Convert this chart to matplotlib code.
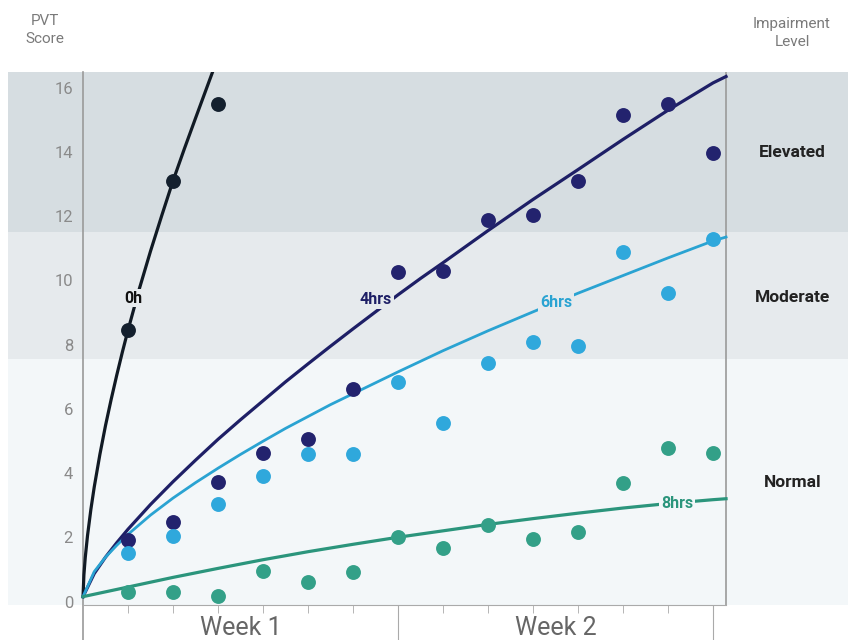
import matplotlib.pyplot as plt
import matplotlib.transforms as mtransforms
import numpy as np

plt.rcParams['font.family'] = ['Roboto', 'DejaVu Sans']

# scatter data: PVT score per day for each sleep condition
days = np.arange(1, 15)
pts_0h = [8.5, 13.15, 15.55]
pts_4h = [1.96, 2.52, 3.77, 4.67, 5.1, 6.67, 10.3, 10.34, 11.93, 12.09, 13.15, 15.2, 15.55, 14.02]
pts_6h = [1.56, 2.09, 3.1, 3.96, 4.65, 4.65, 6.9, 5.6, 7.47, 8.13, 8.0, 10.94, 9.65, 11.34]
pts_8h = [0.34, 0.34, 0.22, 1.0, 0.65, 0.97, 2.06, 1.71, 2.43, 1.99, 2.21, 3.74, 4.83, 4.67]

# trend curves
curve_0h_t = [0, 0.02, 0.05, 0.1, 0.175, 0.25, 0.375, 0.5, 0.625, 0.75, 0.875, 1,
              1.25, 1.5, 1.75, 2, 2.25, 2.5, 2.75, 3]
curve_0h_v = [0.2, 0.88, 1.42, 2.1, 2.92, 3.62, 4.63, 5.53, 6.34, 7.1, 7.82, 8.5,
              9.78, 10.96, 12.07, 13.15, 14.14, 15.1, 16.05, 17.0]
curve_4h_t = [0, 0.25, 0.5, 0.75, 1, 1.5, 2, 2.5, 3, 3.5, 4, 4.5, 5, 5.5, 6, 6.5, 7, 7.5,
              8, 9, 10, 11, 12, 13, 14, 14.29]
curve_4h_v = [0.2, 0.92, 1.43, 1.88, 2.3, 3.07, 3.78, 4.45, 5.1, 5.71, 6.3, 6.89, 7.45, 8.0,
              8.54, 9.07, 9.6, 10.11, 10.6, 11.6, 12.57, 13.5, 14.44, 15.35, 16.2, 16.4]
curve_6h_t = [0, 0.25, 0.5, 0.75, 1, 1.5, 2, 2.5, 3, 3.5, 4, 4.5, 5, 5.5, 6, 7, 8, 9,
              10, 11, 12, 13, 14, 14.29]
curve_6h_v = [0.2, 0.98, 1.43, 1.8, 2.14, 2.74, 3.27, 3.75, 4.2, 4.63, 5.04, 5.44, 5.81, 6.18,
              6.52, 7.2, 7.86, 8.48, 9.07, 9.65, 10.2, 10.75, 11.28, 11.4]
curve_8h_t = [0, 1, 2, 3, 4, 5, 6, 7, 8, 9, 10, 11, 12, 13, 14, 14.29]
curve_8h_v = [0.2, 0.5, 0.8, 1.08, 1.35, 1.6, 1.83, 2.05, 2.25, 2.45, 2.63, 2.8, 2.96, 3.1, 3.22, 3.25]

bands = [(-0.1, 7.6, '#f3f7f9', 'Normal', 3.77),
         (7.6, 11.56, '#e6eaed', 'Moderate', 9.53),
         (11.56, 17, '#d6dde1', 'Elevated', 14.02)]
yticks = [0, 2, 4, 6, 8, 10, 12, 14, 16]
weeks = ['Week 1', 'Week 2']
week_centers = [3.5, 10.5]
x_end = 14.29

c0, c4, c6, c8 = '#111a24', '#1e1f66', '#2aa3d2', '#2b957c'

fig = plt.figure(figsize=(8.48, 6.4), dpi=100)
ax = fig.add_axes([8 / 848, 35 / 640, 840 / 848, 533 / 640])
ax.set_xlim(-1.667, 17.0)
ax.set_ylim(-0.06, 16.54)

for lo, hi, col, name, ylab in bands:
    ax.axhspan(lo, hi, color=col, zorder=0, lw=0)
    ax.text(15.76, ylab, name, ha='center', va='center', fontsize=12.5,
            fontweight='bold', color='#222222')

for v in yticks:
    ax.text(-0.22, v, str(v), ha='right', va='center', fontsize=12, color='#8a8a8a')

# axis lines
ax.axvline(0, ymin=-0.066, ymax=1, color='#9a9a9a', lw=1.2, clip_on=False, zorder=1)
ax.axvline(x_end, ymin=0, ymax=1, color='#9a9a9a', lw=1.2, zorder=1)
for s in ['top', 'left', 'right']:
    ax.spines[s].set_visible(False)
ax.spines['bottom'].set_bounds(0, x_end)
ax.spines['bottom'].set_color('#aaaaaa')
ax.set_yticks([])
ax.set_xticks([7, 14])
ax.set_xticks([d for d in days if d not in (7, 14)], minor=True)
ax.tick_params(axis='x', which='major', length=25, color='#aaaaaa', labelbottom=False)
ax.tick_params(axis='x', which='minor', length=6, color='#aaaaaa')

trans = mtransforms.blended_transform_factory(ax.transData, ax.transAxes)
for w, xc in zip(weeks, week_centers):
    ax.text(xc, -0.02, w, transform=trans, ha='center', va='top', fontsize=18,
            color='#666666', clip_on=False)

# curves
lw = 2.3
ax.plot(curve_0h_t, curve_0h_v, color=c0, lw=lw, zorder=3, solid_joinstyle='round')
ax.plot(curve_4h_t, curve_4h_v, color=c4, lw=lw, zorder=3, solid_joinstyle='round')
ax.plot(curve_6h_t, curve_6h_v, color=c6, lw=lw - 0.3, zorder=3, solid_joinstyle='round')
ax.plot(curve_8h_t, curve_8h_v, color=c8, lw=lw, zorder=3, solid_joinstyle='round')

ms = 115
ax.scatter(days[:3], pts_0h, s=ms, color='#14202e', zorder=4, lw=0)
ax.scatter(days, pts_4h, s=ms, color='#23236e', zorder=4, lw=0)
ax.scatter(days, pts_6h, s=ms, color='#2fa8dc', zorder=4, lw=0)
ax.scatter(days, pts_8h, s=ms, color='#33a088', zorder=4, lw=0)

# curve labels
def curve_label(x, y, txt, col, bg):
    ax.text(x, y, txt, ha='center', va='center', fontsize=11.5, fontweight='bold',
            color=col, zorder=5,
            bbox=dict(boxstyle='square,pad=0.12', fc=bg, ec='none'))

curve_label(1.11, 9.5, '0h', '#111111', '#e6eaed')
curve_label(6.51, 9.44, '4hrs', c4, '#e6eaed')
curve_label(10.51, 9.35, '6hrs', c6, '#e6eaed')
curve_label(13.2, 3.1, '8hrs', c8, '#f3f7f9')

fig.text(45 / 848, 1 - 30 / 640, 'PVT\nScore', ha='center', va='center',
         fontsize=11, color='#7a7a7a', linespacing=1.3)
fig.text(792 / 848, 1 - 33 / 640, 'Impairment\nLevel', ha='center', va='center',
         fontsize=11, color='#7a7a7a', linespacing=1.3)

fig.savefig('out.png', dpi=100)
